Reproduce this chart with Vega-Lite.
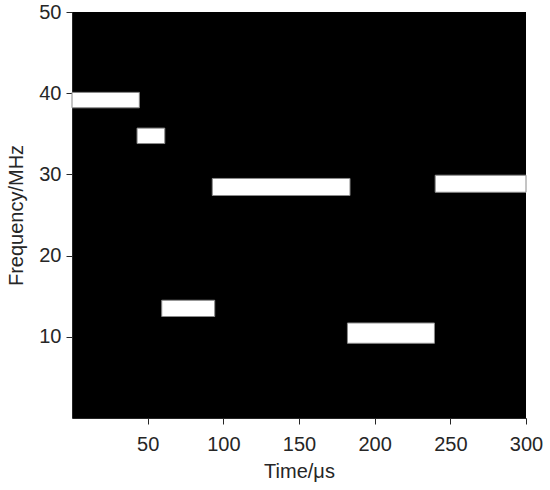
{
  "$schema": "https://vega.github.io/schema/vega-lite/v6.json",
  "autosize": "none",
  "width": 454,
  "height": 406,
  "padding": {"left": 72, "top": 12, "right": 24, "bottom": 72},
  "background": "white",
  "view": {"fill": "black", "stroke": null},
  "config": {
    "font": "Liberation Sans",
    "axis": {
      "labelFont": "Liberation Sans",
      "titleFont": "Liberation Sans",
      "labelFontSize": 20,
      "titleFontSize": 20,
      "titleFontWeight": "normal",
      "labelColor": "#262626",
      "titleColor": "#262626",
      "domainColor": "#262626",
      "tickColor": "#262626",
      "tickSize": 6,
      "grid": false
    }
  },
  "data": {
    "values": [
      {"t0": 0, "t1": 44.5, "f0": 38.2, "f1": 40.1},
      {"t0": 43, "t1": 61.3, "f0": 33.8, "f1": 35.7},
      {"t0": 59.3, "t1": 94.3, "f0": 12.5, "f1": 14.5},
      {"t0": 92.7, "t1": 183.7, "f0": 27.4, "f1": 29.5},
      {"t0": 182, "t1": 239.5, "f0": 9.2, "f1": 11.7},
      {"t0": 240, "t1": 300, "f0": 27.8, "f1": 29.9}
    ]
  },
  "mark": {"type": "rect", "fill": "white", "stroke": "#8a8a8a", "strokeWidth": 1},
  "encoding": {
    "x": {
      "field": "t0", "type": "quantitative",
      "scale": {"domain": [0, 300], "nice": false, "zero": false},
      "axis": {"title": "Time/μs", "values": [50, 100, 150, 200, 250, 300], "labelPadding": 10, "titlePadding": 7, "labelFlush": false}
    },
    "x2": {"field": "t1"},
    "y": {
      "field": "f0", "type": "quantitative",
      "scale": {"domain": [0, 50], "nice": false, "zero": false},
      "axis": {"title": "Frequency/MHz", "values": [10, 20, 30, 40, 50], "labelPadding": 5, "titlePadding": 12, "labelFlush": false}
    },
    "y2": {"field": "f1"}
  }
}
